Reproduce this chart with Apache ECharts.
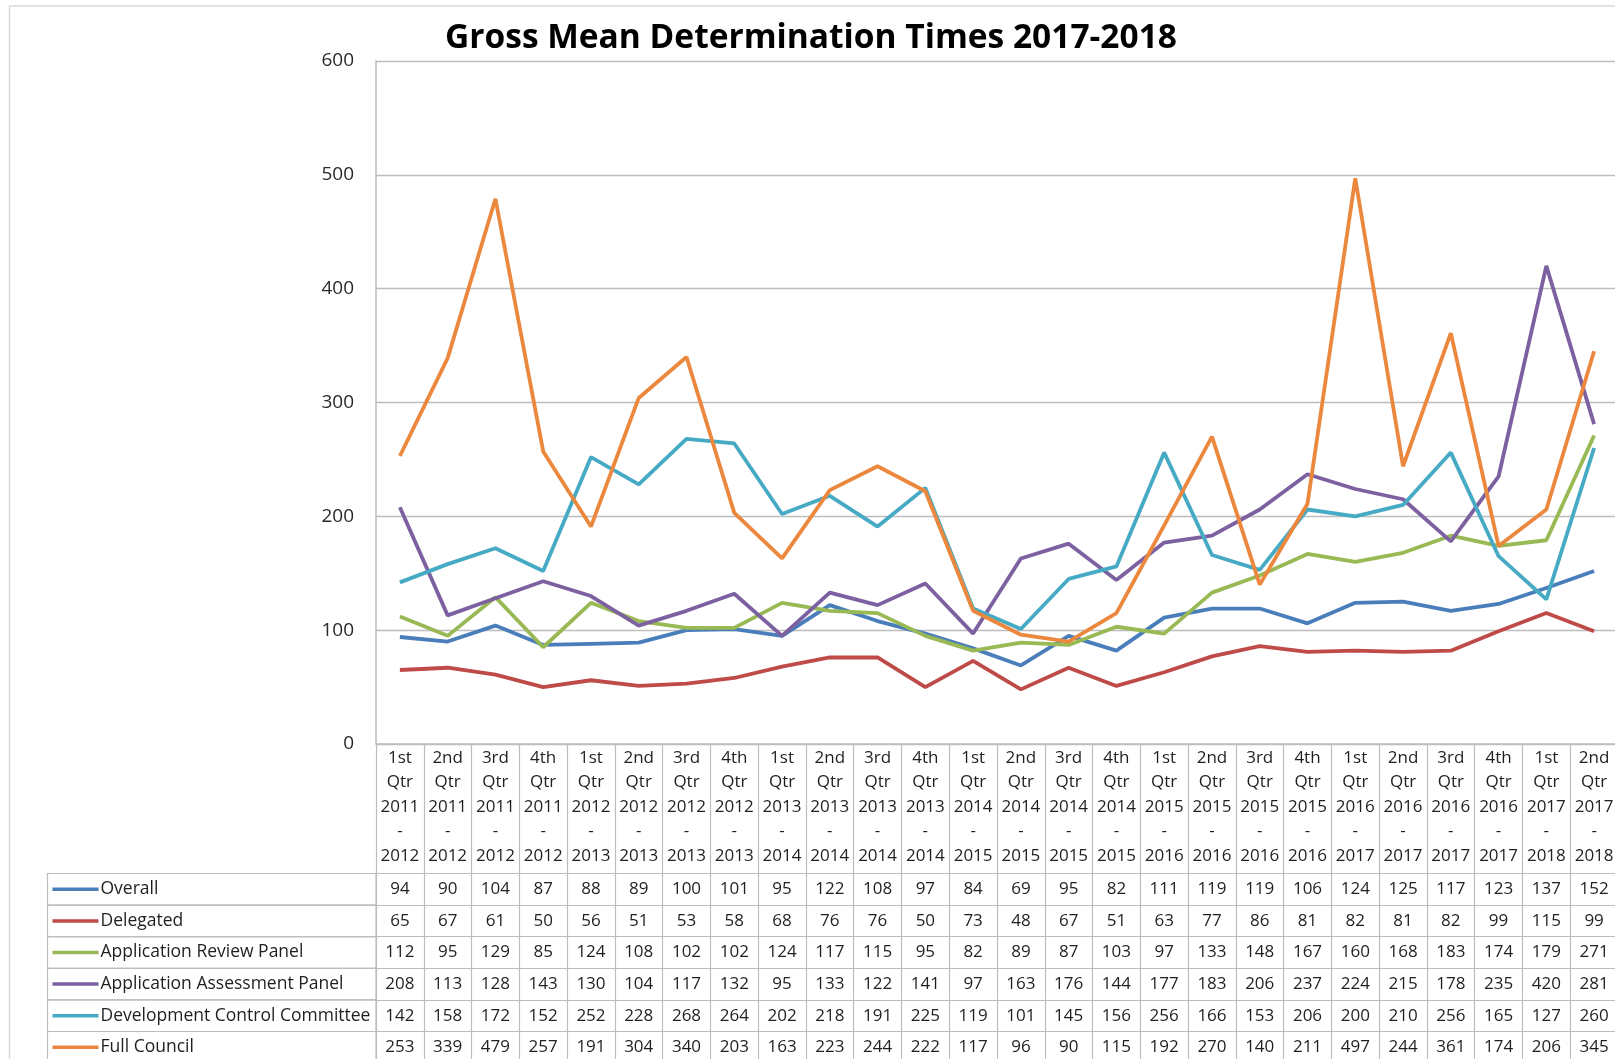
<!DOCTYPE html>
<html lang="en">
<head>
    <meta charset="UTF-8">
    <title>Gross Mean Determination Times 2017-2018</title>
    <script src="https://cdn.jsdelivr.net/npm/echarts@6.0.0/dist/echarts.min.js"></script>
    <style>
        html, body { margin: 0; padding: 0; background: #fff; }
        #myChart { width: 1615px; height: 1059px; }
    </style>
</head>
<body>
    <div id="myChart"></div>
    <script>
        // 类别 (quarters)
        const categories = [
            '1st Qtr 2011 - 2012', '2nd Qtr 2011 - 2012', '3rd Qtr 2011 - 2012', '4th Qtr 2011 - 2012',
            '1st Qtr 2012 - 2013', '2nd Qtr 2012 - 2013', '3rd Qtr 2012 - 2013', '4th Qtr 2012 - 2013',
            '1st Qtr 2013 - 2014', '2nd Qtr 2013 - 2014', '3rd Qtr 2013 - 2014', '4th Qtr 2013 - 2014',
            '1st Qtr 2014 - 2015', '2nd Qtr 2014 - 2015', '3rd Qtr 2014 - 2015', '4th Qtr 2014 - 2015',
            '1st Qtr 2015 - 2016', '2nd Qtr 2015 - 2016', '3rd Qtr 2015 - 2016', '4th Qtr 2015 - 2016',
            '1st Qtr 2016 - 2017', '2nd Qtr 2016 - 2017', '3rd Qtr 2016 - 2017', '4th Qtr 2016 - 2017',
            '1st Qtr 2017 - 2018', '2nd Qtr 2017 - 2018'
        ];

        // 数据
        const overall     = [94, 90, 104, 87, 88, 89, 100, 101, 95, 122, 108, 97, 84, 69, 95, 82, 111, 119, 119, 106, 124, 125, 117, 123, 137, 152];
        const delegated   = [65, 67, 61, 50, 56, 51, 53, 58, 68, 76, 76, 50, 73, 48, 67, 51, 63, 77, 86, 81, 82, 81, 82, 99, 115, 99];
        const reviewPanel = [112, 95, 129, 85, 124, 108, 102, 102, 124, 117, 115, 95, 82, 89, 87, 103, 97, 133, 148, 167, 160, 168, 183, 174, 179, 271];
        const assessPanel = [208, 113, 128, 143, 130, 104, 117, 132, 95, 133, 122, 141, 97, 163, 176, 144, 177, 183, 206, 237, 224, 215, 178, 235, 420, 281];
        const devControl  = [142, 158, 172, 152, 252, 228, 268, 264, 202, 218, 191, 225, 119, 101, 145, 156, 256, 166, 153, 206, 200, 210, 256, 165, 127, 260];
        const fullCouncil = [253, 339, 479, 257, 191, 304, 340, 203, 163, 223, 244, 222, 117, 96, 90, 115, 192, 270, 140, 211, 497, 244, 361, 174, 206, 345];

        const seriesList = [
            { name: 'Overall', data: overall, color: '#4A7EBB' },
            { name: 'Delegated', data: delegated, color: '#BE4B48' },
            { name: 'Application Review Panel', data: reviewPanel, color: '#98B954' },
            { name: 'Application Assessment Panel', data: assessPanel, color: '#7D60A0' },
            { name: 'Development Control Committee', data: devControl, color: '#46AAC5' },
            { name: 'Full Council', data: fullCouncil, color: '#EB883E' }
        ];

        const FONT = 'Open Sans';
        const BORDER = '#bdbdbd';
        const GRID_LEFT = 376, GRID_TOP = 61, GRID_W = 1242, GRID_H = 683;
        const HEADER_H = 129.5, ROW_H = 31.6;
        const TABLE_LEFT = 47.5;
        const LABEL_W = GRID_LEFT - TABLE_LEFT;

        var myChart = echarts.init(document.getElementById('myChart'));

        // 数据表的每一行都是一个底部类别轴
        const rowAxes = seriesList.map(function (s, k) {
            return {
                type: 'category',
                gridIndex: 0,
                position: 'bottom',
                offset: HEADER_H + k * ROW_H,
                boundaryGap: true,
                data: s.data.map(String),
                axisLine: { show: true, lineStyle: { color: BORDER, width: 1.2 } },
                axisTick: { show: true, interval: 0, length: ROW_H, inside: false, lineStyle: { color: BORDER, width: 1.2 } },
                axisLabel: {
                    interval: 0, margin: 0, fontFamily: FONT, fontSize: 17, color: '#1f1f1f',
                    lineHeight: ROW_H, verticalAlign: 'top'
                },
                splitLine: { show: false },
                name: '{k| }{t|' + s.name + '}',
                nameLocation: 'start',
                nameGap: LABEL_W,
                nameTextStyle: {
                    align: 'left',
                    verticalAlign: 'top',
                    lineHeight: ROW_H,
                    padding: [0, 0, 0, 5],
                    borderColor: BORDER,
                    borderWidth: 1.2,
                    rich: {
                        k: { width: 46, height: 3.5, backgroundColor: s.color, lineHeight: ROW_H },
                        t: {
                            fontFamily: FONT, fontSize: 17.5, color: '#1f1f1f', lineHeight: ROW_H,
                            width: LABEL_W - 5 - 46 - 2, padding: [0, 0, 0, 2]
                        }
                    }
                }
            };
        });

        const option = {
            backgroundColor: '#fff',
            animation: false,
            title: {
                text: 'Gross Mean Determination Times 2017-2018',
                left: 806,
                textAlign: 'center',
                top: 16,
                textStyle: { fontFamily: FONT, fontWeight: 'bold', fontSize: 33.5, color: '#000' }
            },
            graphic: [{
                type: 'rect',
                shape: { x: 9.5, y: 6, width: 1800, height: 1200 },
                style: { fill: 'none', stroke: '#d9d9d9', lineWidth: 1.5 },
                silent: true
            }],
            grid: {
                left: GRID_LEFT, top: GRID_TOP, width: GRID_W, height: GRID_H,
                outerBoundsMode: 'none'
            },
            xAxis: [{
                type: 'category',
                gridIndex: 0,
                position: 'bottom',
                boundaryGap: true,
                data: categories,
                axisLine: { show: true, lineStyle: { color: BORDER, width: 1.5 } },
                axisTick: { show: true, interval: 0, length: HEADER_H, inside: false, lineStyle: { color: BORDER, width: 1.2 } },
                axisLabel: {
                    interval: 0, margin: 2, fontFamily: FONT, fontSize: 17, color: '#1f1f1f', lineHeight: 24.4,
                    formatter: function (v) { return v.split(' ').join('\n'); }
                },
                splitLine: { show: false }
            }].concat(rowAxes),
            yAxis: {
                type: 'value',
                min: 0,
                max: 600,
                interval: 100,
                axisLine: { show: true, lineStyle: { color: BORDER, width: 1.5 } },
                axisTick: { show: false },
                axisLabel: { margin: 22, fontFamily: FONT, fontSize: 19, color: '#2a2a2a' },
                splitLine: { show: true, lineStyle: { color: BORDER, width: 1.3 } }
            },
            series: seriesList.map(function (s) {
                return {
                    name: s.name,
                    type: 'line',
                    xAxisIndex: 0,
                    yAxisIndex: 0,
                    data: s.data,
                    symbol: 'none',
                    color: s.color,
                    lineStyle: { width: 3.8, color: s.color }
                };
            })
        };

        myChart.setOption(option);
    </script>
</body>
</html>
